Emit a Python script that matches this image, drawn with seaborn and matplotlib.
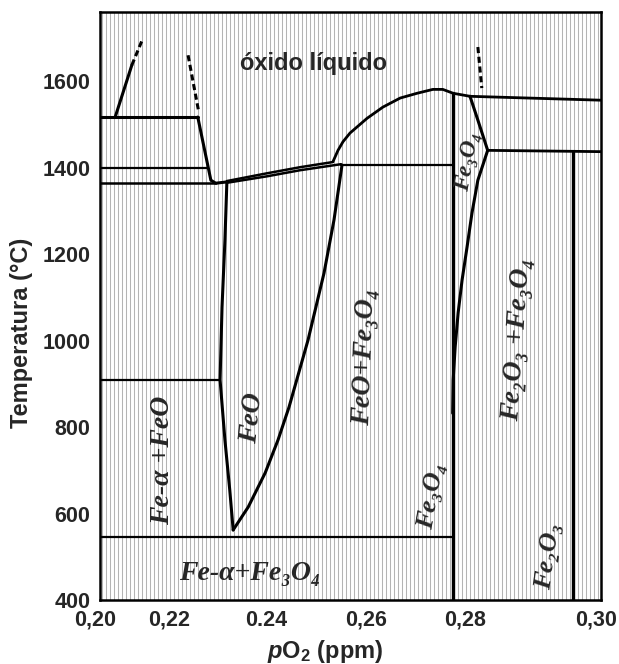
import numpy as np
import matplotlib
matplotlib.use("Agg")
import matplotlib.pyplot as plt
import matplotlib.transforms as mtransforms
import seaborn as sns

# eixo x do original nao e linear: posicao (px) de cada marca dentro do eixo
x_ticks = [0.20, 0.22, 0.24, 0.26, 0.28, 0.30]
x_tick_labels = ["0,20", "0,22", "0.24", "0,26", "0,28", "0,30"]
x_tick_px = [0, 74, 171, 271, 370, 501]
y_ticks = [400, 600, 800, 1000, 1200, 1400, 1600]

# linhas do diagrama (pO2, T)
fe_liq_x = [0.2041, 0.2086]
fe_liq_T = [1517, 1637]
fe_liq_dash_x = [0.2086, 0.2114]
fe_liq_dash_T = [1637, 1695]
delta_x = [0.20, 0.2249]
delta_T = [1517, 1517]
wus_liq_dash_x = [0.2229, 0.2250]
wus_liq_dash_T = [1660, 1535]
wus_liq_x = [0.2249, 0.2276, 0.2286, 0.2309]
wus_liq_T = [1517, 1371, 1364, 1367]
gamma_x = [0.20, 0.2270]
gamma_T = [1399, 1399]
gamma2_x = [0.20, 0.2286]
gamma2_T = [1364, 1364]
lens_up_x = [0.2309, 0.2392, 0.2458, 0.2524]
lens_up_T = [1369, 1387, 1401, 1413]
lens_lo_x = [0.2309, 0.2392, 0.2458, 0.2540]
lens_lo_T = [1365, 1380, 1394, 1408]
ox_liq_x = [0.2524, 0.2534, 0.2544, 0.2558, 0.2592, 0.2624, 0.2659, 0.2693,
            0.2725, 0.2745, 0.2766, 0.2800]
ox_liq_T = [1414, 1440, 1460, 1480, 1514, 1540, 1561, 1572, 1581, 1581, 1572, 1565]
eut_x = [0.2540, 0.2765]
eut_T = [1406, 1406]
feo_r_x = [0.2542, 0.2526, 0.2506, 0.2474, 0.2436, 0.2414, 0.2388, 0.2353, 0.2322]
feo_r_T = [1406, 1279, 1156, 1001, 846, 770, 694, 615, 562]
feo_l_x = [0.2309, 0.2305, 0.2299, 0.2295, 0.2305, 0.2315, 0.2322]
feo_l_T = [1366, 1232, 1077, 909, 770, 654, 562]
alpha_x = [0.20, 0.2295]
alpha_T = [910, 910]
eutd_x = [0.20, 0.2765]
eutd_T = [546, 546]
mag_l_x = [0.2765, 0.2765]
mag_l_T = [1572, 400]
mag_r_x = [0.2800, 0.2812, 0.2827, 0.2812, 0.2803, 0.2794, 0.2784, 0.2776, 0.2770, 0.2766, 0.2765]
mag_r_T = [1565, 1510, 1440, 1371, 1295, 1216, 1140, 1064, 985, 909, 832]
hem_h_x = [0.2827, 0.30]
hem_h_T = [1440, 1437]
top_r_x = [0.2800, 0.30]
top_r_T = [1565, 1556]
hem_v_x = [0.2957, 0.2957]
hem_v_T = [1437, 400]
mag_dash_x = [0.2812, 0.2818]
mag_dash_T = [1679, 1584]

# rotulos das fases: (texto, pO2, T, rotacao, tamanho)
fases = [
    ("Fe-α +FeO", 0.2170, 722, 90, 20),
    ("FeO", 0.2361, 821, 84, 20),
    ("FeO+Fe₃O₄", 0.2588, 962, 88, 20),
    ("Fe₃O₄", 0.2796, 1413, 80, 17),
    ("Fe₂O₃ +Fe₃O₄", 0.2872, 1001, 86, 20),
    ("Fe₃O₄", 0.2723, 640, 80, 19),
    ("Fe₂O₃", 0.2919, 502, 82, 19),
    ("Fe-α+Fe₃O₄", 0.2357, 462, 0, 20),
]

sns.set_style("white")
plt.rcParams["font.family"] = ["Liberation Sans", "DejaVu Sans"]
plt.rcParams["font.weight"] = "bold"
plt.rcParams["mathtext.fontset"] = "custom"
plt.rcParams["mathtext.rm"] = "Liberation Sans:bold"
plt.rcParams["mathtext.it"] = "Liberation Sans:italic:bold"

fig = plt.figure(figsize=(6.19, 6.64), dpi=100)
ax = fig.add_axes([100 / 619, 64 / 664, 501 / 619, 588 / 664])

fwd = lambda v: np.interp(v, x_ticks, x_tick_px)
inv = lambda p: np.interp(p, x_tick_px, x_ticks)
ax.set_xscale("function", functions=(fwd, inv))

# fundo listrado
ax.vlines(np.arange(0.004, 1, 4 / 501), 0, 1, transform=ax.transAxes,
          color="#b4b4b4", lw=0.75, zorder=0)

def linha(xs, ts, lw=2.2, ls="-"):
    sns.lineplot(x=xs, y=ts, sort=False, estimator=None, color="black",
                 linewidth=lw, linestyle=ls, ax=ax, zorder=3,
                 solid_capstyle="round", solid_joinstyle="round")

linha(fe_liq_x, fe_liq_T)
linha(fe_liq_dash_x, fe_liq_dash_T, ls=(0, (2, 1.2)))
linha(delta_x, delta_T)
linha(wus_liq_dash_x, wus_liq_dash_T, ls=(0, (2, 1.2)))
linha(wus_liq_x, wus_liq_T)
linha(gamma_x, gamma_T, lw=1.6)
linha(gamma2_x, gamma2_T, lw=1.8)
linha(lens_up_x, lens_up_T, lw=1.8)
linha(lens_lo_x, lens_lo_T, lw=1.8)
linha(ox_liq_x, ox_liq_T, lw=2.0)
linha(eut_x, eut_T, lw=1.6)
linha(feo_r_x, feo_r_T)
linha(feo_l_x, feo_l_T)
linha(alpha_x, alpha_T, lw=1.6)
linha(eutd_x, eutd_T, lw=1.6)
linha(mag_l_x, mag_l_T, lw=2.4)
linha(mag_r_x, mag_r_T)
linha(hem_h_x, hem_h_T, lw=2.0)
linha(top_r_x, top_r_T, lw=2.0)
linha(hem_v_x, hem_v_T, lw=2.4)
linha(mag_dash_x, mag_dash_T, ls=(0, (2, 1.2)))

ax.text(0.2484, 1642, "óxido líquido", fontsize=17, fontweight="bold",
        ha="center", va="center")
for txt, xv, tv, rot, fs in fases:
    ax.text(xv, tv, txt, fontsize=fs, fontweight="bold", fontstyle="italic",
            family=["Liberation Serif", "DejaVu Serif"], rotation=rot,
            ha="center", va="center", zorder=4)

ax.set_xlim(0.20, 0.30)
ax.set_ylim(400, 1760)
ax.set_xticks(x_ticks)
ax.set_xticklabels(x_tick_labels)
ax.set_yticks(y_ticks)
ax.minorticks_off()
ax.tick_params(direction="in", length=5, width=2, labelsize=15.5, pad=7,
               top=False, right=False)
shift = mtransforms.ScaledTranslation(-5 / 100, 0, fig.dpi_scale_trans)
for lab in ax.get_xticklabels():
    lab.set_transform(lab.get_transform() + shift)
for s in ax.spines.values():
    s.set_linewidth(1.8)
    s.set_color("black")
    s.set_zorder(5)

ax.set_xlabel(r"$\mathit{p}$O$_2$ (ppm)", fontsize=17, fontweight="bold")
ax.xaxis.set_label_coords(0.449, -0.064)
ax.set_ylabel("Temperatura (°C)", fontsize=17, fontweight="bold")
ax.yaxis.set_label_coords(-0.134, 0.455)

fig.savefig("out.png", dpi=100)
